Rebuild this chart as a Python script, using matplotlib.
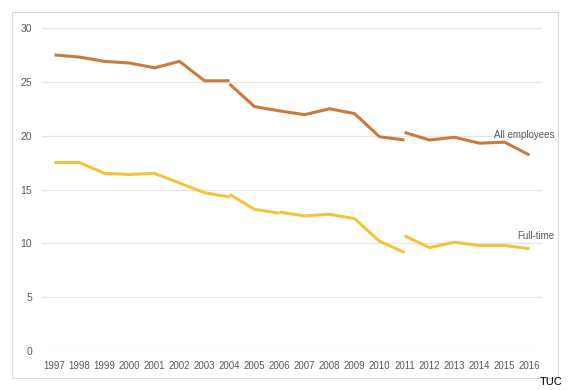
import matplotlib.pyplot as plt
from matplotlib.patches import Rectangle

# series breaks (2004, 2006, 2011) are drawn as separate segments
all_years = [[1997, 1998, 1999, 2000, 2001, 2002, 2003, 2004],
             [2004, 2005, 2006, 2007, 2008, 2009, 2010, 2011],
             [2011, 2012, 2013, 2014, 2015, 2016]]
all_vals = [[27.5, 27.3, 26.9, 26.75, 26.3, 26.9, 25.1, 25.1],
            [24.8, 22.7, 22.3, 21.95, 22.5, 22.05, 19.9, 19.6],
            [20.3, 19.6, 19.85, 19.3, 19.4, 18.2]]

ft_years = [[1997, 1998, 1999, 2000, 2001, 2002, 2003, 2004],
            [2004, 2005, 2006],
            [2006, 2007, 2008, 2009, 2010, 2011],
            [2011, 2012, 2013, 2014, 2015, 2016]]
ft_vals = [[17.5, 17.5, 16.5, 16.4, 16.5, 15.6, 14.7, 14.3],
           [14.55, 13.15, 12.8],
           [12.9, 12.55, 12.7, 12.3, 10.2, 9.15],
           [10.7, 9.6, 10.1, 9.8, 9.8, 9.5]]

years = list(range(1997, 2017))
yticks = [0, 5, 10, 15, 20, 25, 30]

ALL_COL = "#C97B3E"
FT_COL = "#F5C33B"
TXT = "#595959"

plt.rcParams["font.family"] = ["Liberation Sans", "DejaVu Sans"]

fig = plt.figure(figsize=(5.7, 3.9), dpi=100)
fig.patches.append(Rectangle((12 / 570, 1 - 378 / 390), 546 / 570, 366 / 390,
                             transform=fig.transFigure, fill=False,
                             edgecolor="#D9D9D9", linewidth=0.8))
ax = fig.add_axes([42 / 570, 1 - 351 / 390, 500 / 570, 323 / 390])

for xs, ys in zip(all_years, all_vals):
    ax.plot(xs, ys, color=ALL_COL, lw=2.2, solid_capstyle="butt")
for xs, ys in zip(ft_years, ft_vals):
    ax.plot(xs, ys, color=FT_COL, lw=2.2, solid_capstyle="butt")

ax.set_xlim(1996.5, 2016.5)
ax.set_ylim(0, 30)
ax.set_yticks(yticks)
ax.set_xticks(years)
ax.set_xticklabels([str(y) for y in years])
ax.grid(axis="y", color="#E6E6E6", lw=0.9)
ax.set_axisbelow(True)
for s in ax.spines.values():
    s.set_visible(False)
ax.tick_params(length=0, labelsize=7, labelcolor=TXT)
ax.tick_params(axis="y", pad=7, labelsize=7.5)
ax.tick_params(axis="x", pad=7)

ax.text(2017.0, 20.05, "All employees", fontsize=7, color=TXT,
        ha="right", va="center", clip_on=False)
ax.text(2017.0, 10.7, "Full-time", fontsize=7, color=TXT,
        ha="right", va="center", clip_on=False)

fig.text(563 / 570, 1 - 382 / 390, "TUC", fontsize=8, color="black",
         ha="right", va="center")

fig.savefig("out.png", dpi=100)
